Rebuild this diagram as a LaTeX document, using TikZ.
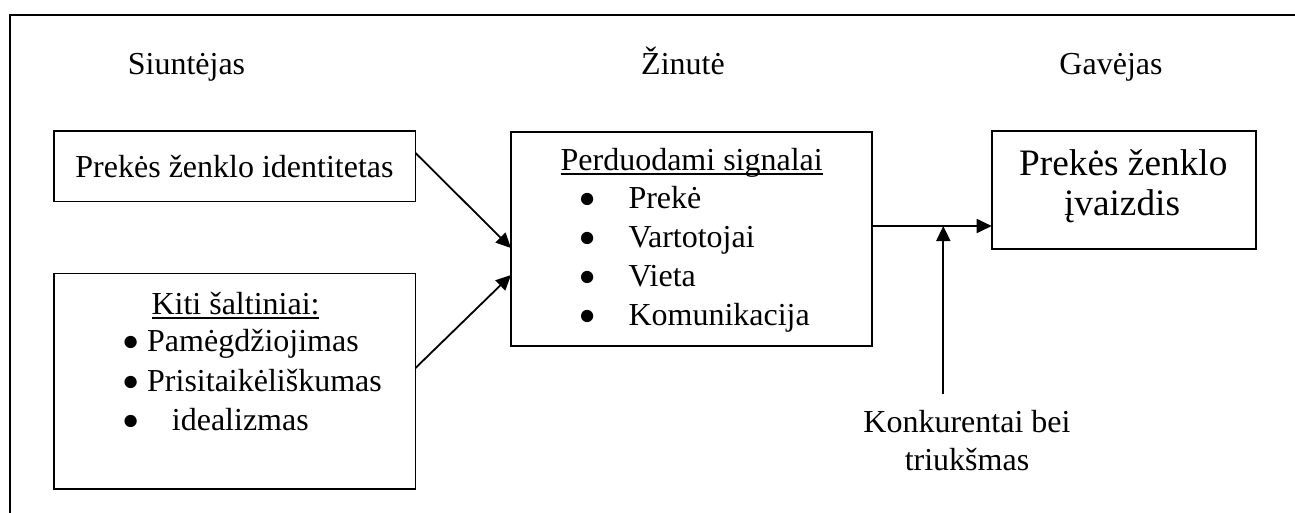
\documentclass[tikz,border=0pt]{standalone}
\usepackage{fontspec}
\setmainfont{Liberation Serif}
\usetikzlibrary{arrows.meta}
% underline that cuts through descenders, as a word processor draws it
\newcommand\ulwords[1]{\setbox0\hbox{#1}\rlap{\rule[-4.6pt]{\wd0}{1.8pt}}\box0}
% a heavier list bullet
\newcommand\heavybullet{\raisebox{0.8pt}{\fontsize{28.5}{28.5}\selectfont ●}}
% bullet followed by its text at a fixed indent
\newcommand\bulitem[2]{\makebox[#1][l]{\heavybullet}#2}

\begin{document}
\begin{tikzpicture}[x=1pt,y=-1pt,
  box/.style={draw, line width=1.8pt, inner sep=0pt, outer sep=0pt},
  txt/.style={inner sep=0pt, anchor=base, font=\fontsize{32}{38}\selectfont},
  bigtxt/.style={txt, font=\fontsize{37.3}{41}\selectfont},
  itemtxt/.style={txt, anchor=base west},
  arr/.style={line width=1.8pt, -{Triangle[length=15pt,width=14pt]}},
]
\useasboundingbox (0,0) rectangle (1295,512);
\clip (0,0) rectangle (1295,512);

% outer frame
\draw[line width=2.7pt] (10,540) -- (10,15) -- (1320,15);

% column headings
\node[txt] (hsend) at (186.5,74) {Siuntėjas};
\node[txt] (hmsg)  at (683,74) {Žinutė};
\node[txt] (hrecv) at (1111,74) {Gavėjas};

% boxes
\node[box, minimum width=361.5pt, minimum height=70.5pt]  (b1) at (234.75,166.25) {};
\node[box, minimum width=361.5pt, minimum height=215.5pt] (b2) at (234.75,381.25) {};
\node[box, minimum width=360.7pt, minimum height=214pt]   (b3) at (691.35,239) {};
\node[box, minimum width=264.3pt, minimum height=118.3pt] (b4) at (1123.85,190.15) {};

% sender side
\node[txt] (t1) at (234.5,177) {Prekės ženklo identitetas};
\node[txt] (t2h) at (235.5,314) {\ulwords{Kiti šaltiniai:}};
\node[itemtxt] (t2a) at (122,351.7) {\bulitem{25pt}{Pamėgdžiojimas}};
\node[itemtxt] (t2b) at (122,391.7) {\bulitem{25pt}{Prisitaikėliškumas}};
\node[itemtxt] (t2c) at (122,430.7) {\bulitem{49.7pt}{idealizmas}};

% message
\node[txt] (t3h) at (691.7,170) {\ulwords{Perduodami signalai}};
\node[itemtxt] (t3a) at (578.5,208.3) {\bulitem{49.8pt}{Prekė}};
\node[itemtxt] (t3b) at (578.5,247.3) {\bulitem{49.8pt}{Vartotojai}};
\node[itemtxt] (t3c) at (578.5,286.7) {\bulitem{49.8pt}{Vieta}};
\node[itemtxt] (t3d) at (578.5,325.5) {\bulitem{49.8pt}{Komunikacija}};

% receiver
\node[bigtxt] (t4a) at (1123.3,175) {Prekės ženklo};
\node[bigtxt] (t4b) at (1122,215) {įvaizdis};

% noise
\node[txt] (n1) at (967,432) {Konkurentai bei};
\node[txt] (n2) at (967,470) {triukšmas};

% connectors
\draw[arr] ([yshift=13.25pt]b1.east) -- ([yshift=-9pt]b3.west);
\draw[arr] ([yshift=13.25pt]b2.east) -- ([yshift=-36pt]b3.west);
\coordinate (join) at (943.3,226);
\coordinate (noisefoot) at (943.3,394);
\draw[arr] (b3.east |- join) -- (b4.west |- join);
\draw[arr] (noisefoot) -- (join);
\end{tikzpicture}
\end{document}
